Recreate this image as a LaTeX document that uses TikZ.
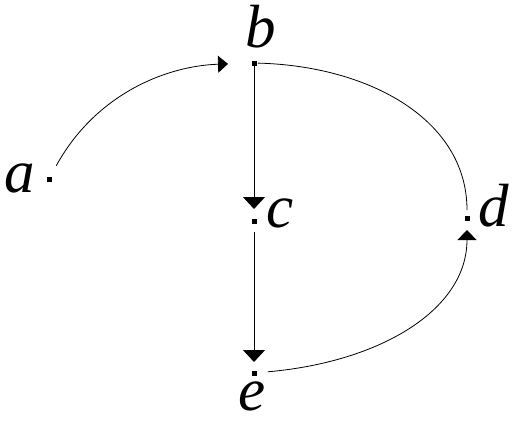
\documentclass[tikz,border=0pt]{standalone}
\usepackage{fontspec}
\setmainfont{Liberation Serif}
\usetikzlibrary{arrows.meta}
\tikzset{
  dotn/.style={rectangle,fill=black,inner sep=0pt,minimum size=5pt},
  lbl/.style={inner sep=0pt,anchor=base,font=\fontsize{61}{61}\selectfont\itshape},
  conn/.style={line width=0.8pt,black},
  arr/.style={conn,-{Triangle[width=22pt,length=12pt]}}
}
\begin{document}
\begin{tikzpicture}[x=1pt,y=-1pt]
\useasboundingbox (0,0) rectangle (523,423);
\node[dotn] (a) at (49,179) {};
\node[dotn] (b) at (254,63) {};
\node[dotn] (c) at (254,221) {};
\node[dotn] (d) at (467,218) {};
\node[dotn] (e) at (254,373) {};
\node[lbl] (la) at (20,192) {a};
\node[lbl] (lb) at (261,48) {b};
\node[lbl] (lc) at (280,227) {c};
\node[lbl] (ld) at (494,226) {d};
\node[lbl] (le) at (252,410) {e};
\draw[conn,-{Triangle[width=17pt,length=10pt]},shorten <=15pt,shorten >=26pt] (a.center) .. controls (95,95) and (165,66) .. (b.center);
\draw[conn,shorten <=4pt,shorten >=8pt] (b.center) .. controls (370,66) and (467,120) .. (d.center);
\draw[arr,shorten >=12pt] (b.center) -- (c.center);
\draw[arr,shorten <=11pt,shorten >=11pt] (c.center) -- (e.center);
\draw[conn,-{Triangle[width=19pt,length=10pt]},shorten <=14pt,shorten >=12pt] (e.center) .. controls (380,362) and (467,310) .. (d.center);
\end{tikzpicture}
\end{document}
